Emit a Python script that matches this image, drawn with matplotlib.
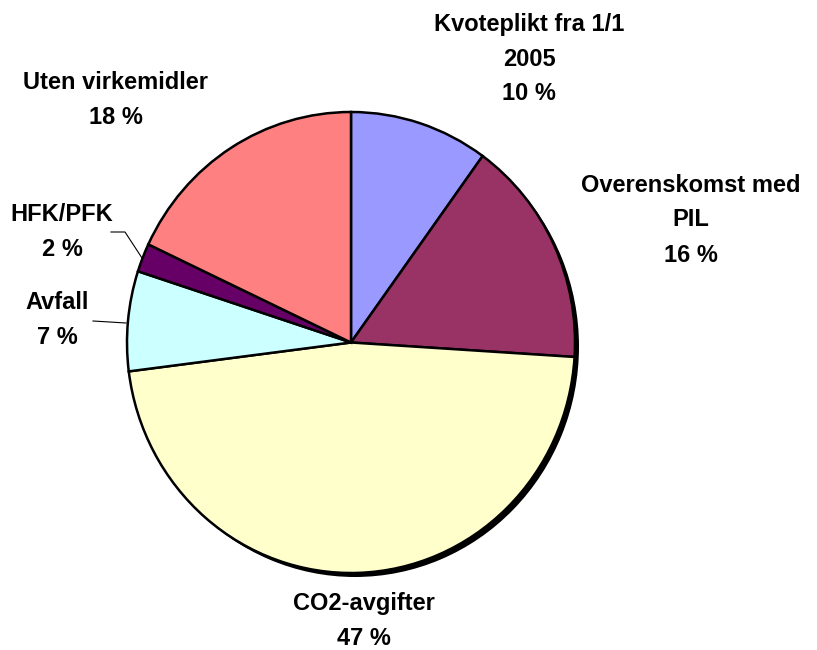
import matplotlib
matplotlib.use("Agg")
import matplotlib.pyplot as plt

# Data (clockwise from 12 o'clock)
categories = ["Kvoteplikt fra 1/1\n2005", "Overenskomst med\nPIL", "CO2-avgifter",
              "Avfall", "HFK/PFK", "Uten virkemidler"]
values = [10, 16, 47, 7, 2, 18]
colors = ["#9999FF", "#993366", "#FFFFCC", "#CCFFFF", "#660066", "#FF8080"]

W, H = 817, 650
fig = plt.figure(figsize=(W / 100, H / 100), dpi=100)

# pie bounding box in pixels
left, top, right, bottom = 127, 112, 575, 573


def px_axes(l, t, r, b, z):
    return fig.add_axes([l / W, 1 - b / H, (r - l) / W, (b - t) / H], zorder=z)

# shadow
sax = px_axes(left + 4, top + 4, right + 4, bottom + 4, 1)
sax.pie([1], colors=["black"], radius=1, startangle=90, counterclock=False,
        wedgeprops=dict(linewidth=0))
sax.set_xlim(-1, 1); sax.set_ylim(-1, 1); sax.set_aspect("auto"); sax.axis("off")

pax = px_axes(left, top, right, bottom, 2)
pax.pie(values, colors=colors, radius=1, startangle=90, counterclock=False,
        wedgeprops=dict(edgecolor="black", linewidth=1.8))
pax.set_xlim(-1, 1); pax.set_ylim(-1, 1); pax.set_aspect("auto"); pax.axis("off")

# overlay in pixel coordinates for labels
tax = fig.add_axes([0, 0, 1, 1], zorder=3)
tax.set_xlim(0, W); tax.set_ylim(H, 0); tax.axis("off")
tax.patch.set_alpha(0)

label_pos = [(529, 59), (691, 220), (364, 621), (57, 320), (62, 232), (116, 100)]
line_gap = 35
font = dict(family=["Liberation Sans", "DejaVu Sans"], fontweight="bold",
            fontsize=17, ha="center", va="center", color="black")
for cat, v, (x, y) in zip(categories, values, label_pos):
    lines = cat.split("\n") + [f"{v} %"]
    n = len(lines)
    for i, ln in enumerate(lines):
        yy = y + (i - (n - 1) / 2) * line_gap
        tax.text(x, yy, ln, **font)

# leader lines
tax.plot([111, 125, 142], [232, 232, 258], color="black", lw=0.8)
tax.plot([93, 126], [321, 323], color="black", lw=0.8)

fig.savefig("out.png", dpi=100)
